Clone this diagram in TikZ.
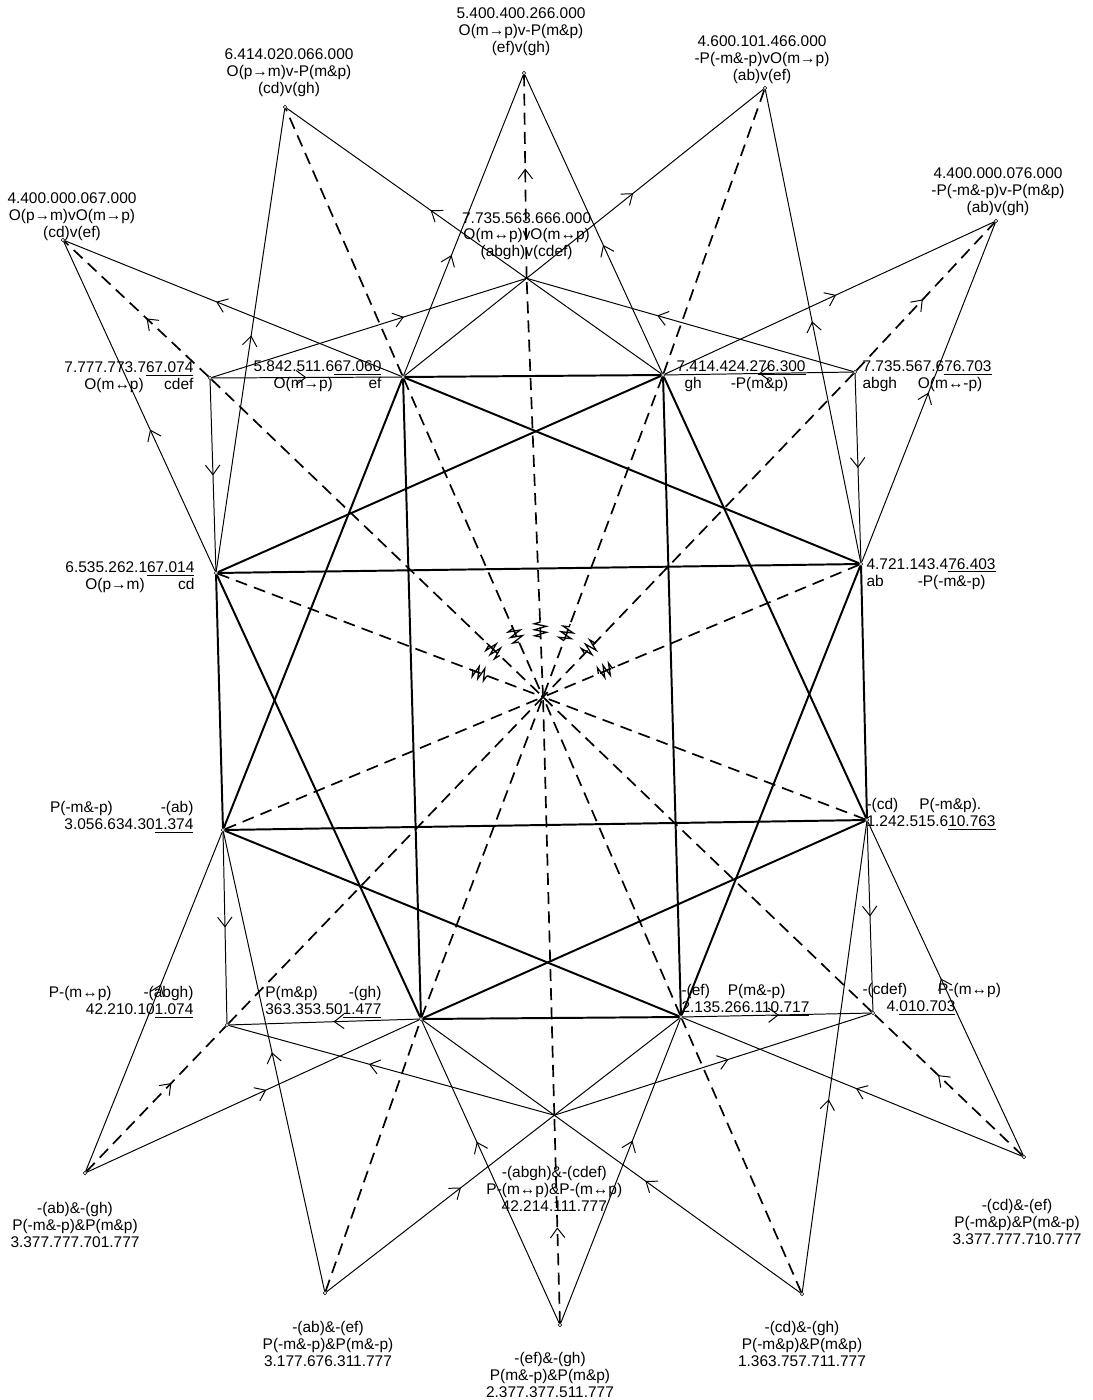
\documentclass[tikz,border=0pt]{standalone}
\usepackage{fontspec}
\setmainfont{Liberation Sans}
\usetikzlibrary{arrows.meta, decorations.markings, decorations.pathmorphing, positioning, calc}
\tikzstyle{vtx} = [circle, draw, inner sep=0pt, minimum size=0.9mm, line width=0.4pt]
\tikzstyle{lbl} = [inner sep=0pt, align=center, font=\fontsize{11pt}{12pt}\selectfont]
\tikzstyle{heavy} = [line width=1.4pt]
\tikzstyle{lite} = [line width=0.7pt]
\tikzstyle{broken} = [line width=1.2pt, dash pattern=on 3mm off 1.8mm]
\tikzstyle{wmark} = [line width=0.9pt, decorate, decoration={zigzag, segment length=1.5mm, amplitude=1.5mm}]
\tikzset{arr/.style={postaction={decorate}, decoration={markings, mark=at position #1 with {\pgfsetdash{}{0pt}\arrow{Straight Barb[length=2.4mm,width=3.6mm,line width=0.7pt]}}}}}
\newcommand{\blocktl}[3]{\begin{tabular}{@{\hspace{5mm}}l@{}r@{}}\multicolumn{2}{@{}r@{}}{#1}\\#2&#3\end{tabular}}
\newcommand{\blocktr}[4]{\begin{tabular}{@{}l@{\hspace{#4}}l@{}}\multicolumn{2}{@{}l@{}}{#1}\\#2&#3\end{tabular}}
\newcommand{\blockbl}[4]{\begin{tabular}{@{}l@{\hspace{#4}}r@{}}#1&#2\\\multicolumn{2}{@{}r@{}}{#3}\end{tabular}}
\newcommand{\blockbr}[4]{\begin{tabular}{@{}l@{\hspace{#4}}l@{}}#1&#2\\\multicolumn{2}{@{}l@{}}{#3}\end{tabular}}

\begin{document}
\begin{tikzpicture}[x=0.25mm, y=-0.25mm]
\useasboundingbox (0,0) rectangle (1092,1400);

\node (cdef) [vtx] at (210,378) {};
\node (ef) [vtx] at (403,377) {};
\node (gh) [vtx] at (663,375) {};
\node (abgh) [vtx] at (855,372) {};
\node (cd) [vtx] at (216,573) {};
\node (ab) [vtx] at (861,564) {};
\node (nab) [vtx] at (223,830) {};
\node (ncd) [vtx] at (867,820) {};
\node (nabgh) [vtx] at (227,1025) {};
\node (ngh) [vtx] at (421,1019) {};
\node (nef) [vtx] at (681,1017) {};
\node (ncdef) [vtx] at (873,1013) {};
\coordinate (C) at (543,697);

\node (cdVef) [vtx] at (63,240) {};
\node (cdVgh) [vtx] at (285,107) {};
\node (efVgh) [vtx] at (524,73) {};
\node (abVef) [vtx] at (765,88) {};
\node (abVgh) [vtx] at (996,221) {};
\coordinate (abghVcdef) at (intersection of cdVgh--gh and abVef--ef);

\node (abAgh) [vtx] at (85,1173) {};
\node (abAef) [vtx] at (325,1293) {};
\node (efAgh) [vtx] at (560,1325) {};
\node (cdAgh) [vtx] at (802,1294) {};
\node (cdAef) [vtx] at (1024,1157) {};
\coordinate (abghAcdef) at (intersection of abAef--nef and cdAgh--ngh);

\node (lcdVef) [lbl, above=-0.7mm of cdVef, xshift=2.25mm] {4.400.000.067.000\\O(p→m)vO(m→p)\\(cd)v(ef)};
\node (lcdVgh) [lbl, above=2.05mm of cdVgh, xshift=1mm] {6.414.020.066.000\\O(p→m)v-P(m\&p)\\(cd)v(gh)};
\node (lefVgh) [lbl, above=3.8mm of efVgh, xshift=-0.75mm] {5.400.400.266.000\\O(m→p)v-P(m\&p)\\(ef)v(gh)};
\node (labVef) [lbl, above=0.55mm of abVef, xshift=-0.75mm] {4.600.101.466.000\\-P(-m\&-p)vO(m→p)\\(ab)v(ef)};
\node (labVgh) [lbl, above=0.8mm of abVgh, xshift=0.5mm] {4.400.000.076.000\\-P(-m\&-p)v-P(m\&p)\\(ab)v(gh)};
\node (labghVcdef) [lbl, above=4.5mm of abghVcdef] {7.735.563.666.000\\O(m↔p)vO(m↔p)\\(abgh)v(cdef)};

\node (labAgh) [lbl, below=6.8mm of abAgh, xshift=-2.5mm] {-(ab)\&-(gh)\\P(-m\&-p)\&P(m\&p)\\3.377.777.701.777};
\node (labAef) [lbl, below=6.5mm of abAef, xshift=0.75mm] {-(ab)\&-(ef)\\P(-m\&-p)\&P(m\&-p)\\3.177.676.311.777};
\node (lefAgh) [lbl, below=6.3mm of efAgh, xshift=-2.5mm] {-(ef)\&-(gh)\\P(m\&-p)\&P(m\&p)\\2.377.377.511.777};
\node (lcdAgh) [lbl, below=6.3mm of cdAgh] {-(cd)\&-(gh)\\P(-m\&p)\&P(m\&p)\\1.363.757.711.777};
\node (lcdAef) [lbl, below=10mm of cdAef, xshift=-1.75mm] {-(cd)\&-(ef)\\P(-m\&p)\&P(m\&-p)\\3.377.777.710.777};
\node (labghAcdef) [lbl, below=12.7mm of abghAcdef] {-(abgh)\&-(cdef)\\P-(m↔p)\&P-(m↔p)\\42.214.111.777};

\node (lcdef) [lbl, left=3.55mm of cdef] {\blocktl{7.777.773.7\underline{67.074}}{O(m↔p)}{cdef}};
\node (lef) [lbl, left=4.8mm of ef] {\blocktl{5.842.511.6\underline{67.060}}{O(m→p)}{ef}};
\node (lcd) [lbl, left=4.8mm of cd, yshift=-1.25mm] {\blocktl{6.535.262.1\underline{67.014}}{O(p→m)}{cd}};
\node (lgh) [lbl, right=2.8mm of gh, yshift=-0.5mm] {\blocktr{7.414.424.2\underline{76.300}}{\hspace{2mm}gh}{-P(m\&p)}{7.25mm}};
\node (labgh) [lbl, right=1.3mm of abgh, yshift=-1.25mm] {\blocktr{7.735.567.6\underline{76.703}}{abgh}{O(m↔-p)}{5.25mm}};
\node (lab) [lbl, right=0.8mm of ab, yshift=-2.6mm] {\blocktr{4.721.143.4\underline{76.403}}{ab}{-P(-m\&-p)}{8.5mm}};

\node (lnab) [lbl, left=6.8mm of nab, yshift=3mm] {\blockbl{P(-m\&-p)}{-(ab)}{3.056.634.30\underline{1.374}}{12mm}};
\node (lnabgh) [lbl, left=7.8mm of nabgh, yshift=5.5mm] {\blockbl{P-(m↔p)}{-(abgh)}{42.210.10\underline{1.074}}{8mm}};
\node (lngh) [lbl, left=9.3mm of ngh, yshift=4mm] {\blockbl{P(m\&p)}{-(gh)}{363.353.50\underline{1.477}}{6mm}};
\node (lnef) [lbl, right=-0.45mm of nef, yshift=4mm] {\blockbr{-(ef)}{P(m\&-p)}{2.135.266.11\underline{0.717}}{4.5mm}};
\node (lncdef) [lbl, right=-3.2mm of ncdef, yshift=3.25mm] {\blockbr{-(cdef)}{P-(m↔p)}{\hspace{6mm}4.\underline{010.703}}{7.75mm}};
\node (lncd) [lbl, right=-0.7mm of ncd, yshift=1.25mm] {\blockbr{-(cd)}{P(-m\&p).}{1.242.515.6\underline{10.763}}{5.25mm}};

\draw[heavy] (ef) -- (gh);
\draw[heavy] (cd) -- (ab);
\draw[heavy] (nab) -- (ncd);
\draw[heavy] (ngh) -- (nef);
\draw[heavy] (ef) -- (ngh);
\draw[heavy] (gh) -- (nef);
\draw[heavy] (cd) -- (nab);
\draw[heavy] (ab) -- (ncd);
\draw[heavy] (ef) -- (ab);
\draw[heavy] (gh) -- (cd);
\draw[heavy] (ef) -- (nab);
\draw[heavy] (gh) -- (ncd);
\draw[heavy] (cd) -- (ngh);
\draw[heavy] (ab) -- (nef);
\draw[heavy] (nab) -- (nef);
\draw[heavy] (ncd) -- (ngh);

\draw[lite, arr=0.43] (cd) -- (cdVef);
\draw[lite, arr=0.55] (ef) -- (cdVef);
\draw[lite, arr=0.51] (cd) -- (cdVgh);
\draw[lite] (gh) -- (abghVcdef);
\draw[lite, arr=0.4] (abghVcdef) -- (cdVgh);
\draw[lite, arr=0.4] (ef) -- (efVgh);
\draw[lite, arr=0.43] (gh) -- (efVgh);
\draw[lite] (ef) -- (abghVcdef);
\draw[lite, arr=0.45] (abghVcdef) -- (abVef);
\draw[lite, arr=0.51] (ab) -- (abVef);
\draw[lite, arr=0.52] (gh) -- (abVgh);
\draw[lite, arr=0.5] (ab) -- (abVgh);
\draw[lite, arr=0.61] (cdef) -- (abghVcdef);
\draw[lite, arr=0.6] (abgh) -- (abghVcdef);
\draw[lite, arr=0.5] (cdef) -- (ef);
\draw[lite, arr=0.5] (abgh) -- (gh);
\draw[lite, arr=0.5] (cdef) -- (cd);
\draw[lite, arr=0.5] (abgh) -- (ab);

\draw[lite, arr=0.5] (nab) -- (nabgh);
\draw[lite, arr=0.45] (ngh) -- (nabgh);
\draw[lite, arr=0.5] (ncd) -- (ncdef);
\draw[lite, arr=0.51] (nef) -- (ncdef);
\draw[lite, arr=0.55] (abAgh) -- (nab);
\draw[lite, arr=0.54] (abAgh) -- (ngh);
\draw[lite, arr=0.52] (abAef) -- (nab);
\draw[lite, arr=0.59] (abAef) -- (abghAcdef);
\draw[lite] (abghAcdef) -- (nef);
\draw[lite, arr=0.6] (efAgh) -- (ngh);
\draw[lite, arr=0.6] (efAgh) -- (nef);
\draw[lite, arr=0.41] (cdAgh) -- (ncd);
\draw[lite, arr=0.63] (cdAgh) -- (abghAcdef);
\draw[lite] (abghAcdef) -- (ngh);
\draw[lite, arr=0.49] (cdAef) -- (nef);
\draw[lite, arr=0.53] (cdAef) -- (ncd);
\draw[lite, arr=0.57] (abghAcdef) -- (nabgh);
\draw[lite, arr=0.55] (abghAcdef) -- (ncdef);

\draw[broken, arr=0.43] (cdef) -- (cdVef);
\draw[broken] (cdef) -- (C);
\draw[broken] (ef) -- (cdVgh);
\draw[broken] (ef) -- (C);
\draw[broken, arr=0.54] (abghVcdef) -- (efVgh);
\draw[broken] (C) -- (abghVcdef);
\draw[broken] (gh) -- (abVef);
\draw[broken] (gh) -- (C);
\draw[broken, arr=0.48] (abgh) -- (abVgh);
\draw[broken] (abgh) -- (C);
\draw[broken] (cd) -- (C);
\draw[broken] (ab) -- (C);
\draw[broken] (nab) -- (C);
\draw[broken] (ncd) -- (C);
\draw[broken, arr=0.61] (abAgh) -- (nabgh);
\draw[broken] (nabgh) -- (C);
\draw[broken] (abAef) -- (ngh);
\draw[broken] (ngh) -- (C);
\draw[broken] (cdAgh) -- (nef);
\draw[broken] (nef) -- (C);
\draw[broken, arr=0.57] (cdAef) -- (ncdef);
\draw[broken] (ncdef) -- (C);
\draw[broken, arr=0.46] (efAgh) -- (abghAcdef);
\draw[broken] (abghAcdef) -- (C);

\foreach \tgt in {cd, cdef, ef, abghVcdef, gh, abgh, ab}
  \draw[wmark] ($(C)!15mm!(\tgt)$) -- ($(C)!19.5mm!(\tgt)$);
\end{tikzpicture}
\end{document}
